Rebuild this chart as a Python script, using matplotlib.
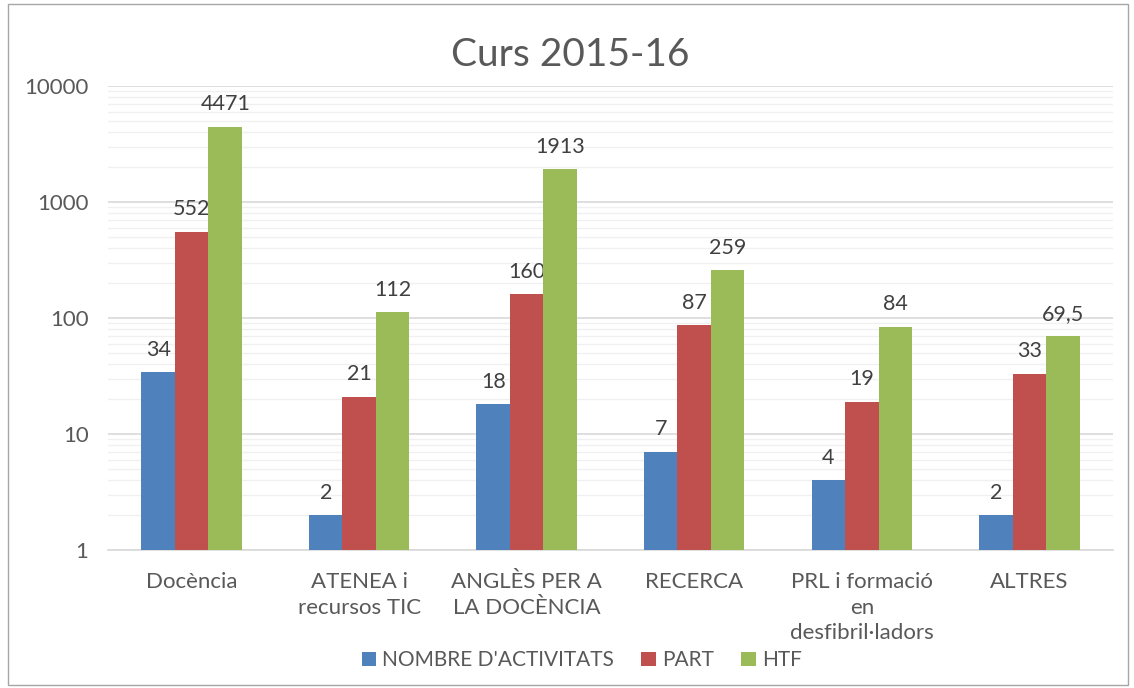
import matplotlib.pyplot as plt
import matplotlib.ticker as mticker
import numpy as np
from matplotlib.patches import Rectangle

categories = ["Docència", "ATENEA i\nrecursos TIC", "ANGLÈS PER A\nLA DOCÈNCIA",
              "RECERCA", "PRL i formació\nen\ndesfibril·ladors", "ALTRES"]
activitats = [34, 2, 18, 7, 4, 2]
part = [552, 21, 160, 87, 19, 33]
htf = [4471, 112, 1913, 259, 84, 69.5]
series_names = ["NOMBRE D'ACTIVITATS", "PART", "HTF"]
colors = ["#4F81BD", "#C0504D", "#9BBB59"]

plt.rcParams['font.family'] = ['Lato', 'DejaVu Sans']
text_col = "#595959"

fig = plt.figure(figsize=(11.34, 6.88), dpi=100)
ax = fig.add_axes([0.0952, 0.2006, 0.8863, 0.6744])

x = np.arange(len(categories))
w = 0.2
for i, (vals, name) in enumerate(zip([activitats, part, htf], series_names)):
    pos = x + (i - 1) * w
    bars = ax.bar(pos, vals, w, color=colors[i], label=name, zorder=3)
    for b, v in zip(bars, vals):
        lbl = f"{v:g}".replace(".", ",")
        ax.annotate(lbl, (b.get_x() + b.get_width() / 2, v), xytext=(0, 9),
                    textcoords="offset points", ha="center", va="bottom",
                    fontsize=15.5, color="#404040")

ax.set_yscale("log")
ax.set_ylim(1, 10000)
ax.set_xlim(-0.5, len(categories) - 0.5)
ax.yaxis.set_major_formatter(mticker.FuncFormatter(lambda v, p: f"{v:.0f}"))
ax.yaxis.set_minor_locator(mticker.LogLocator(base=10, subs=np.arange(2, 10)))
ax.yaxis.set_minor_formatter(mticker.NullFormatter())
ax.grid(which="major", axis="y", color="#d9d9d9", linewidth=1.2, zorder=0)
ax.grid(which="minor", axis="y", color="#f0f0f0", linewidth=1.0, zorder=0)
ax.set_xticks(x)
ax.set_xticklabels(categories, linespacing=1.35)
ax.tick_params(axis="both", which="both", length=0, labelsize=16, colors=text_col)
ax.tick_params(axis="x", pad=16)
ax.tick_params(axis="y", pad=14)
for s in ["top", "right", "left"]:
    ax.spines[s].set_visible(False)
ax.spines["bottom"].set_color("#d9d9d9")
ax.spines["bottom"].set_linewidth(1.2)

fig.text(0.503, 0.92, "Curs 2015-16", fontsize=28, color=text_col,
         ha="center", va="center")

fig.legend(loc="center", bbox_to_anchor=(0.513, 0.04), ncol=3, frameon=False,
           fontsize=15, labelcolor=text_col, handlelength=0.7, handleheight=0.7,
           handletextpad=0.3, columnspacing=1.3)

fig.patches.append(Rectangle((0.007, 0.004), 0.988, 0.99, transform=fig.transFigure,
                             fill=False, edgecolor="#a6a6a6", linewidth=1))

fig.savefig("out.png", dpi=100)
